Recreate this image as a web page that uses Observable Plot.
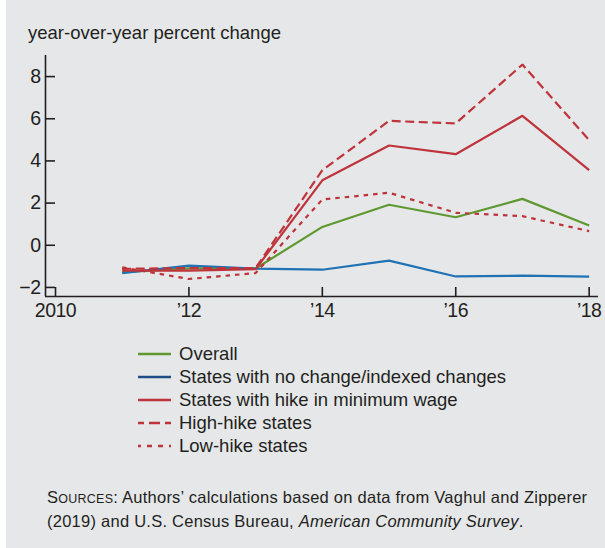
<!DOCTYPE html>
<html>
<head>
<meta charset="utf-8">
<script src="https://cdn.jsdelivr.net/npm/d3@7"></script>
<script src="https://cdn.jsdelivr.net/npm/@observablehq/plot@0.6"></script>
<style>
  html, body { margin: 0; padding: 0; background: #ffffff; }
  #wrap { position: relative; width: 605px; height: 548px; box-sizing: border-box; border-left: 6px solid #ffffff; background: #e6e7e9; font-family: "Liberation Sans", Arial, sans-serif; color: #231f20; overflow: hidden; }
  #chart { position: absolute; left: -6px; top: 0; }
  #chart text { letter-spacing: -0.5px; font-size: 19.5px; }
  #title { position: absolute; left: 22px; top: 22px; font-size: 18.5px; white-space: nowrap; }
  #legend { position: absolute; left: 132px; top: 343px; font-size: 18.5px; }
  .row { display: flex; align-items: center; height: 22.8px; white-space: nowrap; }
  .row svg { margin-right: 8px; }
  #sources { position: absolute; left: 41px; top: 486px; font-size: 16.5px; line-height: 22px; white-space: nowrap; letter-spacing: 0.25px; }
  .sc { font-size: 12.5px; }
</style>
</head>
<body>
<div id="wrap">
  <div id="chart"></div>
  <div id="title">year-over-year percent change</div>
  <div id="legend"></div>
  <div id="sources">S<span class="sc">OURCES</span>: Authors’ calculations based on data from Vaghul and Zipperer<br>(2019) and U.S. Census Bureau, <i>American Community Survey</i>.</div>
</div>
<script>
const years = [2011, 2012, 2013, 2014, 2015, 2016, 2017, 2018];
const overall  = [-1.27, -1.10, -1.10, 0.87, 1.92, 1.33, 2.20, 0.94];
const noChange = [-1.32, -0.97, -1.11, -1.16, -0.73, -1.48, -1.44, -1.49];
const hike     = [-1.20, -1.20, -1.13, 3.08, 4.73, 4.32, 6.14, 3.56];
const highHike = [-1.12, -1.08, -1.08, 3.56, 5.90, 5.78, 8.57, 4.98];
const lowHike  = [-1.05, -1.60, -1.32, 2.17, 2.49, 1.54, 1.38, 0.67];

const seriesNames = ["Overall", "States with no change/indexed changes", "States with hike in minimum wage", "High-hike states", "Low-hike states"];
const seriesValues = [overall, noChange, hike, highHike, lowHike];
const seriesColors = ["#5f9830", "#1f72b4", "#bf333b", "#bf333b", "#bf333b"];
const legendColors = ["#5f9830", "#1d4f85", "#bf333b", "#bf333b", "#bf333b"];
const seriesDash = [null, null, null, "9,4.5", "4.5,5"];
const drawOrder = [0, 1, 4, 2, 3];

const xTicks = [2010, 2012, 2014, 2016, 2018];
const xTickLabels = ["2010", "’12", "’14", "’16", "’18"];
const yTicks = [-2, 0, 2, 4, 6, 8];
const xDomain = [2009.85, 2018.14];
const yDomain = [-2.43, 9];

const ink = "#231f20";

const lineMarks = drawOrder.map(i => Plot.line(years.map((yr, j) => ({year: yr, value: seriesValues[i][j]})), {
  x: "year", y: "value", stroke: seriesColors[i], strokeWidth: 2.2,
  strokeDasharray: seriesDash[i], strokeLinejoin: "miter", strokeLinecap: "butt"
}));

const plot = Plot.plot({
  width: 605, height: 330,
  marginLeft: 45, marginRight: 7, marginTop: 55, marginBottom: 34,
  style: { background: "transparent", fontFamily: "'Liberation Sans', Arial, sans-serif", fontSize: "19.5px", color: ink, overflow: "visible" },
  x: { domain: xDomain },
  y: { domain: yDomain },
  marks: [
    Plot.axisY({ticks: yTicks, tickSize: 0, tickPadding: 5, tickFormat: d => d < 0 ? "−" + Math.abs(d) : String(d), label: null, fill: ink, fontSize: 19.5}),
    Plot.axisY({ticks: yTicks, tickSize: -10, tickPadding: 0, tickFormat: () => "", label: null, stroke: ink, strokeWidth: 1.6}),
    Plot.axisX({ticks: xTicks, tickSize: 0, tickPadding: 7, tickFormat: d => xTickLabels[xTicks.indexOf(d)], label: null, fill: ink, fontSize: 19.5}),
    Plot.axisX({ticks: xTicks, tickSize: -9, tickPadding: 0, tickFormat: () => "", label: null, stroke: ink, strokeWidth: 1.6}),
    ...lineMarks,
    Plot.ruleX([xDomain[0]], {stroke: ink, strokeWidth: 1.6}),
    Plot.ruleY([yDomain[0]], {stroke: ink, strokeWidth: 1.6})
  ]
});
document.getElementById("chart").appendChild(plot);

// legend
const legend = d3.select("#legend");
seriesNames.forEach((name, i) => {
  const row = legend.append("div").attr("class", "row");
  const svg = row.append("svg").attr("width", 33).attr("height", 6);
  svg.append("line").attr("x1", 0).attr("x2", 33).attr("y1", 3).attr("y2", 3)
    .attr("stroke", legendColors[i]).attr("stroke-width", 2.4)
    .attr("stroke-dasharray", i === 3 ? "6,5,11,5" : i === 4 ? "3,6,5,6,5,6" : null);
  row.append("span").text(name);
});
</script>
</body>
</html>
